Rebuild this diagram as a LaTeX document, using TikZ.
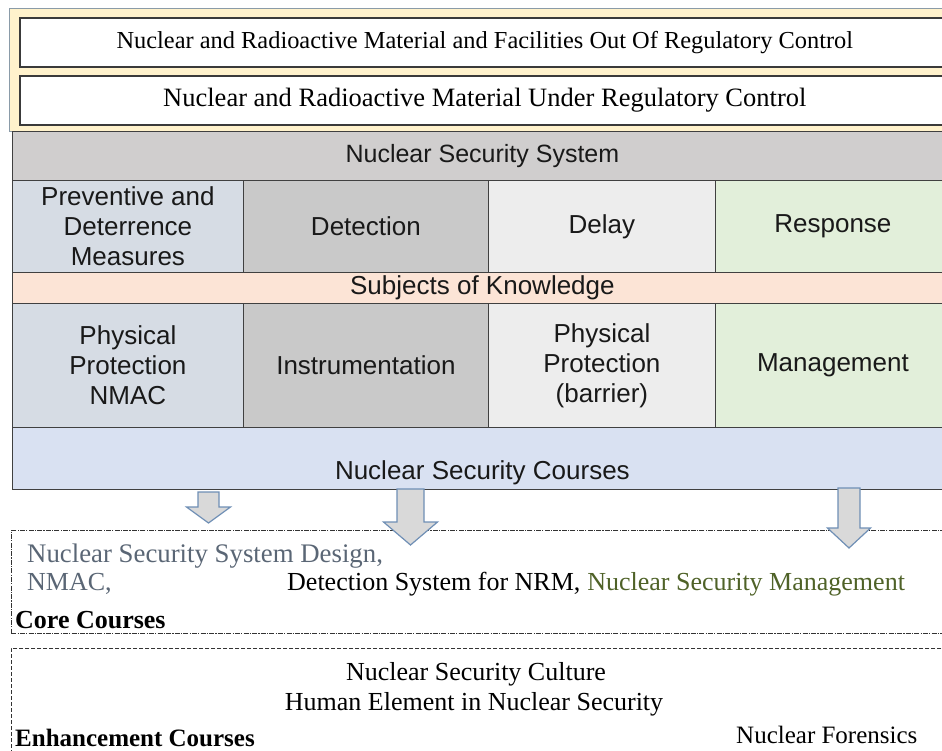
\documentclass[tikz,border=0pt]{standalone}
\usepackage{fontspec}
\setmainfont{Liberation Serif}
\setsansfont{Liberation Sans}
\usetikzlibrary{positioning}
\definecolor{creamfill}{HTML}{FFF2CC}
\definecolor{frameedge}{HTML}{8A9BA8}
\definecolor{boxedge}{HTML}{3A3A3A}
\definecolor{celledge}{HTML}{404040}
\definecolor{bandgray}{HTML}{D0CECE}
\definecolor{bluegray}{HTML}{D6DCE4}
\definecolor{midgray}{HTML}{C9C9C9}
\definecolor{lightgray}{HTML}{EDEDED}
\definecolor{lightgreen}{HTML}{E2EFDA}
\definecolor{peach}{HTML}{FCE4D6}
\definecolor{coursesblue}{HTML}{D9E1F2}
\definecolor{arrowfill}{HTML}{D9D9D9}
\definecolor{arrowedge}{HTML}{6F8FB5}
\definecolor{slatetext}{HTML}{5A6675}
\definecolor{olivetext}{HTML}{4F6228}
\begin{document}
\begin{tikzpicture}
[x=1pt,y=-1pt,
  cell/.style={draw=celledge,line width=0.8pt,inner sep=0pt,anchor=north west,%
    align=center,font=\sffamily\fontsize{26}{30}\selectfont,text=black!90},
  regbox/.style={draw=boxedge,line width=1.6pt,fill=white,inner sep=0pt,%
    anchor=north west,minimum width=930,minimum height=49,%
    font=\fontsize{24.4}{28}\selectfont},
  coursebox/.style={line width=0.6pt,anchor=north west,minimum width=940,inner sep=0pt},
  serifline/.style={font=\fontsize{26}{30}\selectfont,inner sep=0pt},
  blockarrow/.style={draw=arrowedge,fill=arrowfill,line width=1.2pt,line join=miter}]
\useasboundingbox (0,0) rectangle (942,751);
%% regulatory control frame
\node (frame) at (9,8) [draw=frameedge,line width=0.8pt,fill=creamfill,anchor=north west,%
  minimum width=945,minimum height=123,inner sep=0pt] {};
\node (outside) at (19,17) [regbox] {Nuclear and Radioactive Material and Facilities Out Of Regulatory Control};
\node (under) at (19,75) [regbox,font=\fontsize{26.5}{30}\selectfont] {Nuclear and Radioactive Material Under Regulatory Control};
%% nuclear security system table
\node (system) at (12,131) [cell,fill=bandgray,minimum width=940,minimum height=49,%
  font=\sffamily\fontsize{25}{30}\selectfont] {Nuclear Security System};
\foreach \nodename/\xa/\xb/\shade/\text in {
  prev/12/243/bluegray/{Preventive and\\Deterrence\\Measures}, det/243/488/midgray/Detection,
  delay/488/715/lightgray/Delay, resp/715/950/lightgreen/Response}
{
  \node (\nodename) at (\xa,180) [cell,fill=\shade,minimum width=\xb-\xa,minimum height=92] {\text};
}
\node (subjects) at (12,272) [cell,fill=peach,minimum width=940,minimum height=31] {Subjects of Knowledge};
\foreach \nodename/\xa/\xb/\shade/\text in {
  ppnmac/12/243/bluegray/{Physical\\Protection\\NMAC}, instr/243/488/midgray/Instrumentation,
  barrier/488/715/lightgray/{Physical\\Protection\\(barrier)}, manage/715/950/lightgreen/Management}
{
  \node (\nodename) at (\xa,303) [cell,fill=\shade,minimum width=\xb-\xa,minimum height=124] {\text};
}
\node (courses) at (12,427) [cell,fill=coursesblue,minimum width=940,minimum height=62,%
  label={[anchor=south,inner sep=0pt,yshift=5pt,font=\sffamily\fontsize{26}{30}\selectfont,text=black!90]%
  south:Nuclear Security Courses}] {};
%% course boxes
\node (core) at (11,530) [coursebox,draw=black!80,dash pattern=on 5pt off 1.2pt on 1.2pt off 1.2pt,%
  minimum height=103] {};
\node (enhance) at (11,648) [coursebox,draw=black!80,dash pattern=on 4pt off 2pt,minimum height=130] {};
\node (design) at (27,556) [serifline,anchor=west,text=slatetext,font=\fontsize{26.8}{30}\selectfont] {Nuclear Security System Design,};
\node (nmac) at (27,584) [serifline,anchor=west,text=slatetext] {NMAC,};
\node (detsys) at (287,584) [serifline,anchor=west] {Detection System for NRM,};
\node (nsm) [serifline,text=olivetext,right=6.5pt of detsys.base east,anchor=base west] {Nuclear Security Management};
\node (corelabel) at (15,620) [serifline,anchor=west,font=\bfseries\fontsize{26}{30}\selectfont] {Core Courses};
\node (culture) at (476,674) [serifline] {Nuclear Security Culture};
\node (human) at (474,704) [serifline] {Human Element in Nuclear Security};
\node (enhlabel) at (15,738) [serifline,anchor=west,font=\bfseries\fontsize{25}{30}\selectfont] {Enhancement Courses};
\node (forensics) at (736,735) [serifline,anchor=west,font=\fontsize{25}{30}\selectfont] {Nuclear Forensics};
%% block arrows from courses to core courses
\foreach \x/\top/\neck/\tip/\shaft/\head in {
  208.5/492/507/523/10.5/22, 410.5/489/522/545/13.5/27, 849/488/528/548/11/21.5}
{
  \draw[blockarrow] (\x-\shaft,\top) -- (\x+\shaft,\top) -- (\x+\shaft,\neck) -- (\x+\head,\neck)
    -- (\x,\tip) -- (\x-\head,\neck) -- (\x-\shaft,\neck) -- cycle;
}
\end{tikzpicture}
\end{document}
